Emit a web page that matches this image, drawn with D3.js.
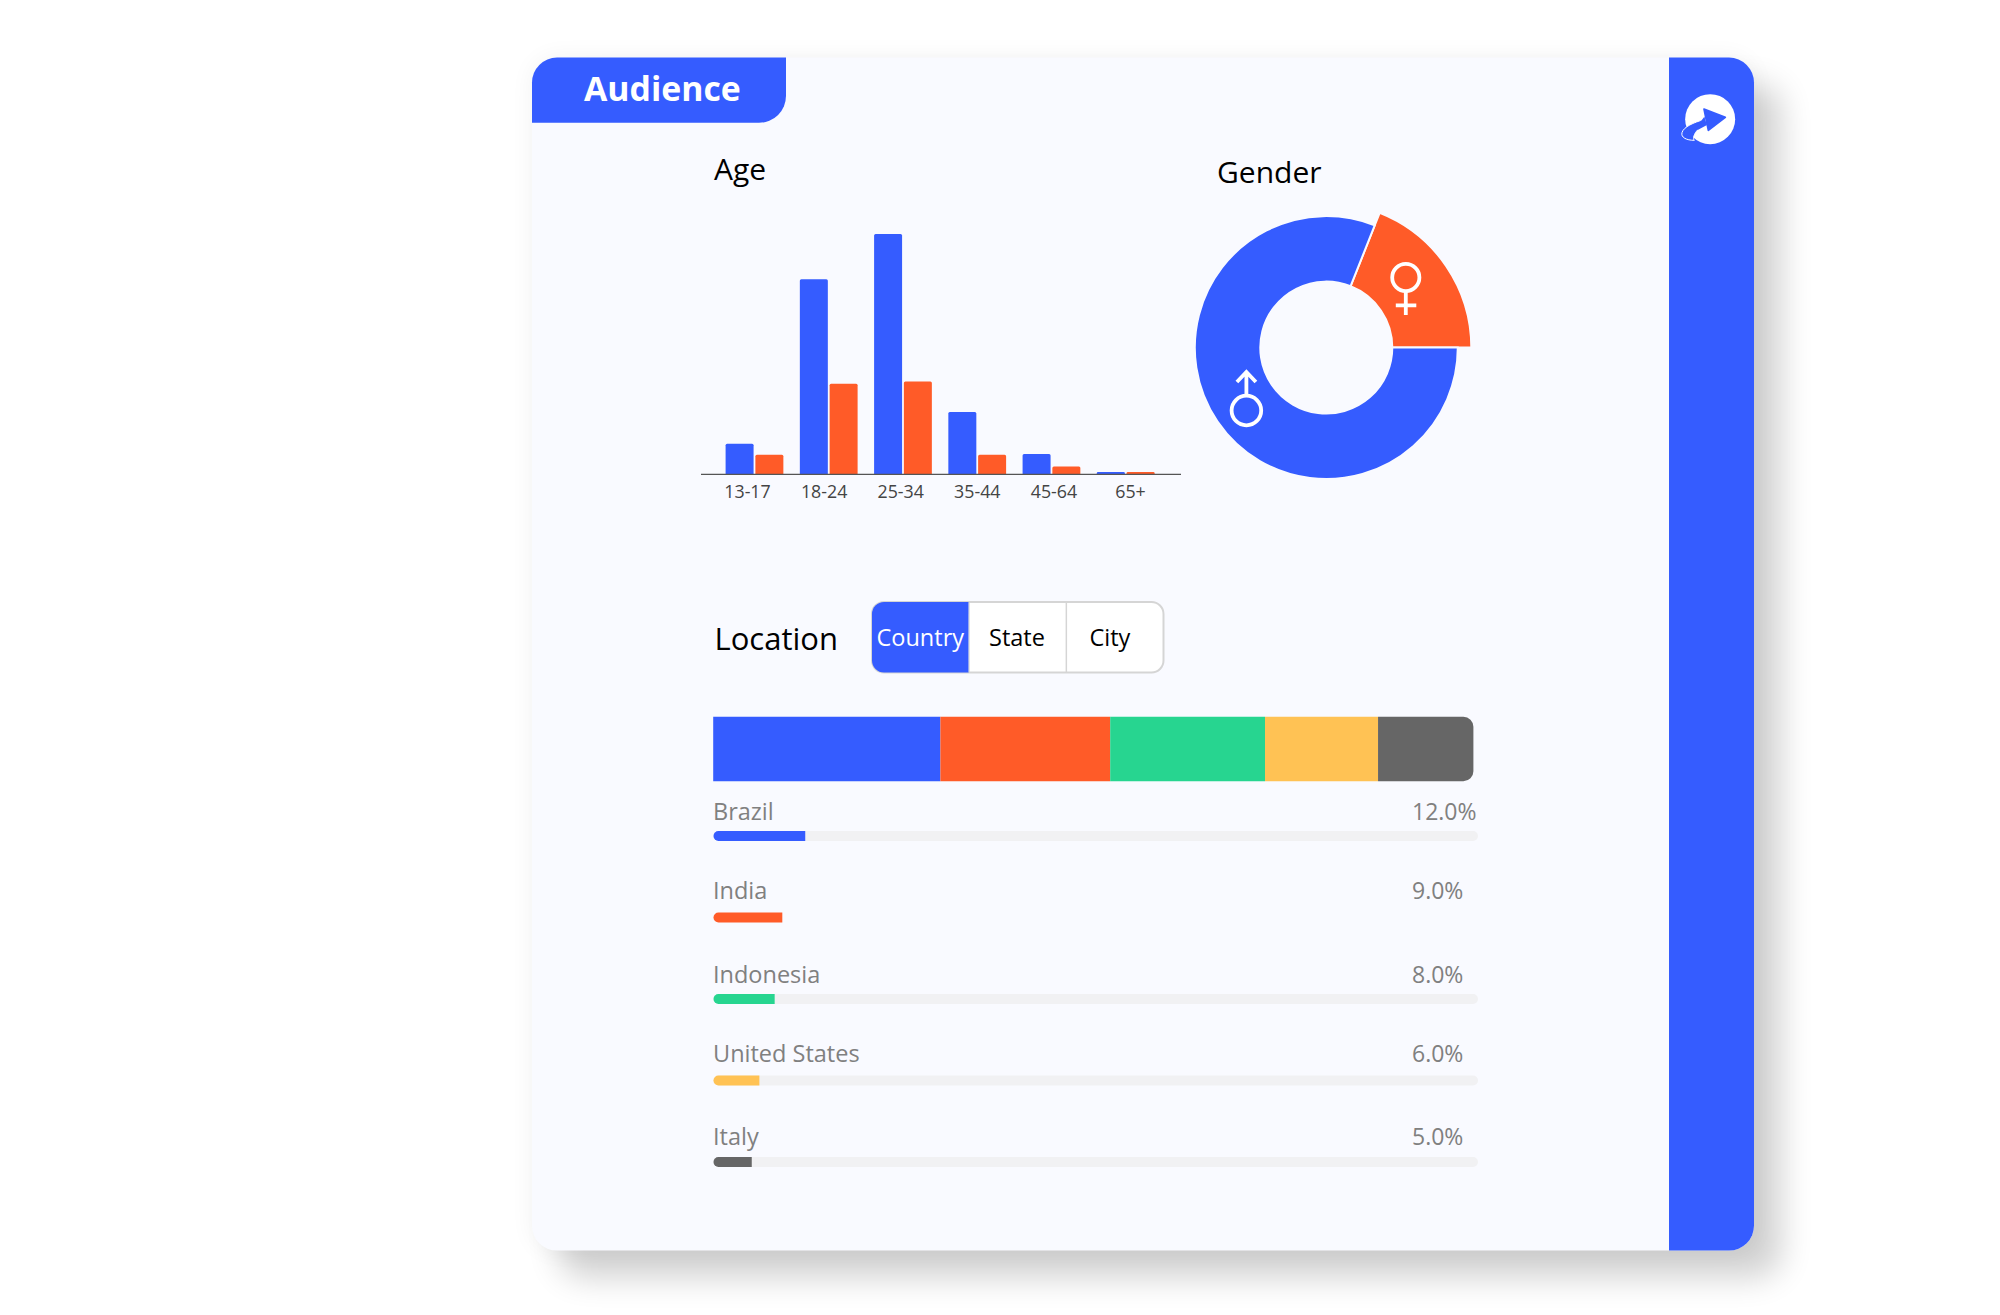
<!DOCTYPE html>
<html>
<head>
<meta charset="utf-8">
<script src="https://cdn.jsdelivr.net/npm/d3@7/dist/d3.min.js"></script>
<style>
html,body{margin:0;padding:0;background:#fff;}
svg{display:block;}
text{font-family:"Open Sans",sans-serif;}
</style>
</head>
<body>
<div id="chart"></div>
<script>
// ---------- data ----------
const ageGroups = ["13-17","18-24","25-34","35-44","45-64","65+"];
const ageMale   = [3.9,25.0,30.8,8.0,2.6,0.3];
const ageFemale = [2.5,11.6,11.9,2.5,1.0,0.3];
const genderNames  = ["Female","Male"];
const genderValues = [19,81];
const countries = ["Brazil","India","Indonesia","United States","Italy"];
const countryShares = [12,9,8,6,5];
const stackShares = [11.96,8.94,8.15,5.95,5.02];
const locationTabs = ["Country","State","City"];

const BLUE="#355cff", ORANGE="#ff5b28", GREEN="#27d590", YELLOW="#ffc254", GRAY="#666666", BG="#f9faff";
const countryColors=[BLUE,ORANGE,GREEN,YELLOW,GRAY];

const svg=d3.select("#chart").append("svg").attr("width",2000).attr("height",1315);
const defs=svg.append("defs");

// ---------- card ----------
const f1=defs.append("filter").attr("id","sh1").attr("x","-20%").attr("y","-20%").attr("width","140%").attr("height","140%");
f1.append("feGaussianBlur").attr("stdDeviation",16);
const f2=defs.append("filter").attr("id","sh2").attr("x","-20%").attr("y","-20%").attr("width","140%").attr("height","140%");
f2.append("feGaussianBlur").attr("stdDeviation",12);
const card={x:532,y:57.6,w:1222,h:1193,r:25};
svg.append("rect").attr("x",card.x).attr("y",card.y).attr("width",card.w).attr("height",card.h).attr("rx",card.r)
  .attr("fill","#000").attr("opacity",0.05).attr("filter","url(#sh2)");
svg.append("rect").attr("x",card.x+27).attr("y",card.y+27).attr("width",card.w).attr("height",card.h).attr("rx",card.r)
  .attr("fill","#000").attr("opacity",0.18).attr("filter","url(#sh1)");
svg.append("rect").attr("x",card.x).attr("y",card.y).attr("width",card.w).attr("height",card.h).attr("rx",card.r).attr("fill",BG);

function cornerRect(x,y,w,h,tl,tr,br,bl){
  const p=d3.path();
  p.moveTo(x+tl,y);p.lineTo(x+w-tr,y);
  if(tr)p.arcTo(x+w,y,x+w,y+tr,tr);
  p.lineTo(x+w,y+h-br);
  if(br)p.arcTo(x+w,y+h,x+w-br,y+h,br);
  p.lineTo(x+bl,y+h);
  if(bl)p.arcTo(x,y+h,x,y+h-bl,bl);
  p.lineTo(x,y+tl);
  if(tl)p.arcTo(x,y,x+tl,y,tl);
  p.closePath();
  return p.toString();
}
// sidebar
svg.append("path").attr("d",cornerRect(1669,card.y,85,card.h,0,25,25,0)).attr("fill",BLUE);
// tab
svg.append("path").attr("d",cornerRect(card.x,card.y,254,65.2,25,0,27,0)).attr("fill",BLUE);
svg.append("text").attr("x",584).attr("y",101).attr("fill","#fff").attr("font-size",33.8).attr("font-weight",700).text("Audience");

// logo icon
const logo=svg.append("g").attr("transform","translate(1671,80) scale(0.3333)");
logo.append("circle").attr("cx",117.5).attr("cy",117.5).attr("r",75).attr("fill","#fff");
logo.append("path").attr("d","M100,118 C68,128 38,140 33,158 C29,172 46,181 70,181 C64,176 70,160 80,150 C88,142 98,134 106,132 Z")
  .attr("fill",BLUE).attr("stroke","#fff").attr("stroke-width",3);
logo.append("path").attr("d","M78,128 C60,136 44,146 40,158 C38,168 50,175 66,176 C62,165 70,152 80,144 Z").attr("fill",BLUE);
logo.append("path").attr("d","M99,87 L163,112 L112,151 Z").attr("fill",BLUE).attr("stroke",BLUE).attr("stroke-width",5).attr("stroke-linejoin","round");
logo.append("path").attr("d","M100,110 L85,130 L80,150 L108,135 Z").attr("fill",BLUE);

// headings
svg.append("text").attr("x",714).attr("y",179.5).attr("font-size",30).attr("fill","#000").text("Age");
svg.append("text").attr("x",1217).attr("y",183).attr("font-size",30).attr("fill","#000").text("Gender");
svg.append("text").attr("x",714.5).attr("y",649.5).attr("font-size",31).attr("fill","#000").text("Location");

// ---------- age bars ----------
const baseY=474.3;
const yAge=d3.scaleLinear().domain([0,30.8]).range([baseY,baseY-240.3]);
const xAge=d3.scaleBand().domain(ageGroups).range([725.6,1154.6]).paddingInner(0.222).paddingOuter(0);
const xSex=d3.scaleBand().domain(["m","f"]).range([0,xAge.bandwidth()]).paddingInner(0.06);
const ageG=svg.append("g");
[["m",ageMale,BLUE],["f",ageFemale,ORANGE]].forEach(([k,vals,c])=>{
  ageG.selectAll("path."+k).data(vals).join("path").attr("class",k)
    .attr("fill",c)
    .attr("d",(d,i)=>{
      const h=baseY-yAge(d);
      return cornerRect(xAge(ageGroups[i])+xSex(k),yAge(d),xSex.bandwidth(),h,Math.min(1.5,h/2),Math.min(1.5,h/2),0,0);
    });
});
svg.append("line").attr("x1",701).attr("x2",1181).attr("y1",baseY).attr("y2",baseY).attr("stroke","#555").attr("stroke-width",1.2);
const xLab=d3.scalePoint().domain(ageGroups).range([747,1130]);
const axisG=svg.append("g").attr("transform",`translate(0,${baseY})`).call(d3.axisBottom(xLab).tickSize(0).tickPadding(11));
axisG.select(".domain").remove();
axisG.selectAll("text").attr("font-family",'"Open Sans",sans-serif').attr("font-size",17.8).attr("fill","#444");

// ---------- gender donut ----------
const start=Math.PI/2-Math.PI*2*(genderValues[0]/100);
const pie=d3.pie().sort(null).startAngle(start).endAngle(start+Math.PI*2);
const slices=pie(genderValues);
const donut=svg.append("g").attr("transform","translate(1326.3,347.6)");
donut.selectAll("path").data(slices).join("path")
  .attr("d",(d,i)=>d3.arc().innerRadius(66).outerRadius(i===0?145:131.5)(d))
  .attr("fill",(d,i)=>i===0?ORANGE:BLUE)
  .attr("stroke",BG).attr("stroke-width",2);
// gender symbols
const fem=svg.append("g").attr("transform","translate(1405.8,277.5)").attr("fill","none").attr("stroke","#fff").attr("stroke-width",3.8);
fem.append("circle").attr("r",13.6);
fem.append("path").attr("d","M0,13.6V37.5M-10,27.8H10.5");
const mal=svg.append("g").attr("transform","translate(1246.4,410.5)").attr("fill","none").attr("stroke","#fff").attr("stroke-width",3.8);
mal.append("circle").attr("r",14.8);
mal.append("path").attr("d","M0,-14.8V-38M-9.5,-28.5L0,-38.5L9.5,-28.5");

// ---------- location tabs ----------
const tabX=d3.scaleBand().domain(locationTabs).range([872,1163.5]);
svg.append("rect").attr("x",872).attr("y",602).attr("width",291.5).attr("height",70.5).attr("rx",12).attr("fill","#fff").attr("stroke","#d5d5d5").attr("stroke-width",2);
svg.append("path").attr("d",cornerRect(872,602,tabX.bandwidth()-0.5,70.5,12,0,0,12)).attr("fill",BLUE);
svg.append("line").attr("x1",tabX("City")).attr("x2",tabX("City")).attr("y1",602).attr("y2",672.5).attr("stroke","#d5d5d5").attr("stroke-width",1.5);
svg.append("line").attr("x1",tabX("State")).attr("x2",tabX("State")).attr("y1",602).attr("y2",672.5).attr("stroke","#d5d5d5").attr("stroke-width",1);
const tabTextX=[876.5,989,1089.5];
svg.selectAll("text.tab").data(locationTabs).join("text").attr("class","tab")
  .attr("x",(d,i)=>tabTextX[i]).attr("y",646)
  .attr("font-size",23.5).attr("fill",(d,i)=>i===0?"#fff":"#000").text(d=>d);

// ---------- stacked bar ----------
const xStack=d3.scaleLinear().domain([0,d3.sum(stackShares)]).range([713.2,1473.4]);
let cum=0;
const stackData=stackShares.map((v,i)=>{const s={v,i,x0:cum,x1:cum+v};cum+=v;return s;});
svg.selectAll("path.stack").data(stackData).join("path").attr("class","stack")
  .attr("fill",d=>countryColors[d.i])
  .attr("d",d=>{
    const last=d.i===stackData.length-1;
    return cornerRect(xStack(d.x0),716.7,xStack(d.x1)-xStack(d.x0),64.6,0,last?10:0,last?10:0,0);
  });

// ---------- country rows ----------
const xShare=d3.scaleLinear().domain([0,100]).range([713.5,1478]);
const yRow=d3.scalePoint().domain(countries).range([831,1157]);
const rowTextGap=[11,14,11,14,12];
const trackH=10;
countries.forEach((c,i)=>{
  const y=yRow(c);
  if(i!==1){
    svg.append("rect").attr("x",xShare(0)).attr("y",y).attr("width",xShare(100)-xShare(0)).attr("height",trackH).attr("rx",5).attr("fill","#f1f1f3");
  }
  svg.append("path").attr("d",cornerRect(xShare(0),y,xShare(countryShares[i])-xShare(0),trackH,5,0,0,5)).attr("fill",countryColors[i]);
  svg.append("text").attr("x",713).attr("y",y-rowTextGap[i]).attr("font-size",23.5).attr("fill","#808080").text(c);
  svg.append("text").attr("x",1412).attr("y",y-rowTextGap[i]).attr("font-size",23).attr("fill","#808080").text(d3.format(".1f")(countryShares[i])+"%");
});
</script>
</body>
</html>
